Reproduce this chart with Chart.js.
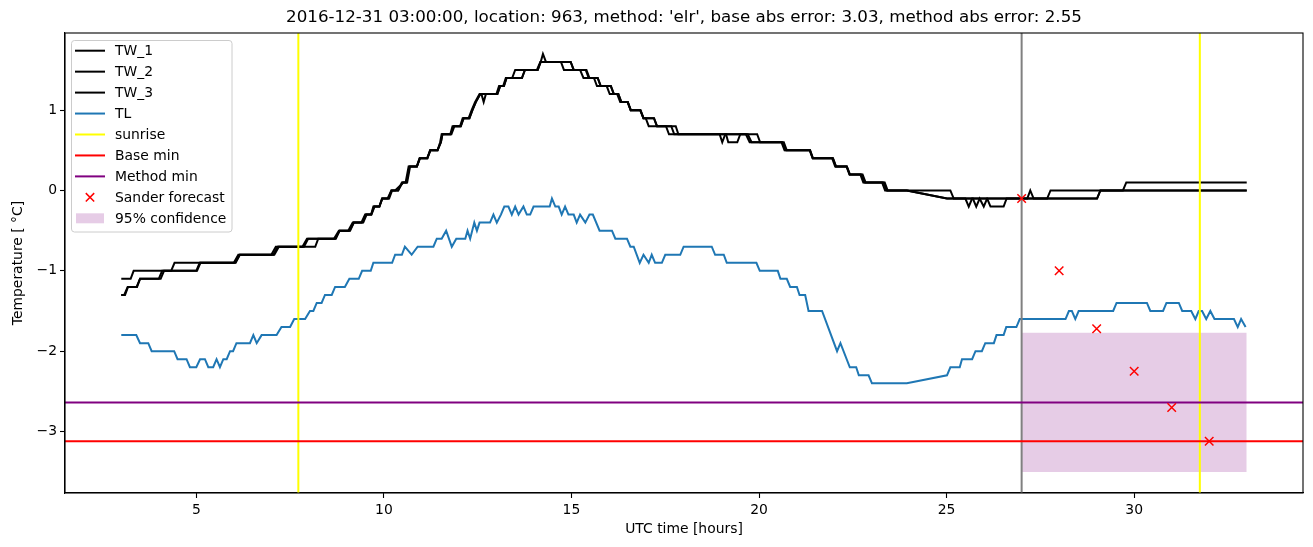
<!DOCTYPE html>
<html>
<head>
<meta charset="utf-8">
<style>
  body { margin: 0; background: #ffffff; }
  #wrap { width: 1313px; height: 547px; }
</style>
<script src="https://cdn.jsdelivr.net/npm/chart.js"></script>
</head>
<body>
<div id="wrap"><canvas id="myChart" width="1313" height="547"></canvas></div>
<script>
  // hours after 2016-12-31 00:00 UTC, temperature in deg C
  const TW_1 = [[3.0,-1.1],[3.25,-1.1],[3.33,-1.0],[4.33,-1.0],[4.42,-0.9],[6.0,-0.9],[6.12,-0.8],[7.0,-0.8],[7.12,-0.7],[7.83,-0.7],[7.95,-0.6],[8.67,-0.6],[8.8,-0.5],[9.05,-0.5],[9.17,-0.4],[9.4,-0.4],[9.5,-0.3],[9.67,-0.3],[9.75,-0.2],[9.88,-0.2],[9.95,-0.1],[10.12,-0.1],[10.2,0.0],[10.38,0.0],[10.48,0.1],[10.58,0.1],[10.66,0.3],[10.88,0.3],[10.95,0.4],[11.16,0.4],[11.23,0.5],[11.43,0.5],[11.5,0.6],[11.54,0.7],[11.77,0.7],[11.83,0.8],[12.03,0.8],[12.1,0.9],[12.26,0.9],[12.34,1.0],[12.43,1.1],[12.55,1.2],[13.0,1.2],[13.07,1.3],[13.18,1.3],[13.25,1.4],[13.42,1.4],[13.5,1.5],[14.08,1.5],[14.17,1.6],[14.72,1.6],[14.8,1.5],[15.23,1.5],[15.32,1.4],[15.6,1.4],[15.68,1.3],[15.94,1.3],[16.02,1.2],[16.22,1.2],[16.3,1.1],[16.5,1.1],[16.58,1.0],[16.83,1.0],[16.92,0.9],[16.98,0.9],[17.06,0.8],[17.52,0.8],[17.6,0.7],[18.95,0.7],[19.02,0.6],[19.1,0.7],[19.65,0.7],[19.75,0.6],[20.6,0.6],[20.68,0.5],[21.35,0.5],[21.43,0.4],[21.95,0.4],[22.03,0.3],[22.33,0.3],[22.41,0.2],[22.7,0.2],[22.78,0.1],[23.28,0.1],[23.36,0.0],[25.1,0.0],[25.19,-0.1],[25.5,-0.1],[25.59,-0.2],[25.68,-0.1],[27.15,-0.1],[27.23,0.0],[27.32,-0.1],[27.68,-0.1],[27.77,0.0],[29.7,0.0],[29.79,0.1],[33.0,0.1]];
  const TW_2 = [[3.0,-1.3],[3.08,-1.3],[3.17,-1.2],[3.41,-1.2],[3.5,-1.1],[4.0,-1.1],[4.09,-1.0],[5.0,-1.0],[5.09,-0.9],[6.03,-0.9],[6.16,-0.8],[7.05,-0.8],[7.17,-0.7],[7.87,-0.7],[7.98,-0.6],[8.7,-0.6],[8.82,-0.5],[9.08,-0.5],[9.2,-0.4],[9.42,-0.4],[9.52,-0.3],[9.66,-0.3],[9.72,-0.2],[9.88,-0.2],[9.96,-0.1],[10.1,-0.1],[10.2,0.0],[10.3,0.0],[10.52,0.1],[10.6,0.1],[10.68,0.3],[10.88,0.3],[10.96,0.4],[11.15,0.4],[11.24,0.5],[11.43,0.5],[11.52,0.6],[11.56,0.7],[11.78,0.7],[11.86,0.8],[12.05,0.8],[12.12,0.9],[12.28,0.9],[12.36,1.0],[12.45,1.1],[12.57,1.2],[12.6,1.2],[12.66,1.1],[12.72,1.2],[13.02,1.2],[13.1,1.3],[13.2,1.3],[13.27,1.4],[13.68,1.4],[13.76,1.5],[14.1,1.5],[14.18,1.6],[14.24,1.7],[14.32,1.6],[14.98,1.6],[15.06,1.5],[15.4,1.5],[15.48,1.4],[15.7,1.4],[15.78,1.3],[16.05,1.3],[16.13,1.2],[16.25,1.2],[16.33,1.1],[16.5,1.1],[16.58,1.0],[16.84,1.0],[16.92,0.9],[17.2,0.9],[17.28,0.8],[17.66,0.8],[17.74,0.7],[19.12,0.7],[19.18,0.6],[19.42,0.6],[19.5,0.7],[19.95,0.7],[20.03,0.6],[20.66,0.6],[20.74,0.5],[21.36,0.5],[21.44,0.4],[21.97,0.4],[22.05,0.3],[22.34,0.3],[22.42,0.2],[22.76,0.2],[22.84,0.1],[23.35,0.1],[23.43,0.0],[23.94,0.0],[25.01,-0.1],[25.7,-0.1],[25.79,-0.2],[25.88,-0.1],[25.99,-0.2],[26.08,-0.1],[29.01,-0.1],[29.1,0.0],[33.0,0.0]];
  const TW_3 = [[3.0,-1.3],[3.1,-1.3],[3.18,-1.2],[3.42,-1.2],[3.5,-1.1],[4.05,-1.1],[4.14,-1.0],[5.02,-1.0],[5.11,-0.9],[6.05,-0.9],[6.16,-0.8],[7.08,-0.8],[7.2,-0.7],[8.17,-0.7],[8.25,-0.6],[8.72,-0.6],[8.82,-0.5],[9.1,-0.5],[9.2,-0.4],[9.45,-0.4],[9.54,-0.3],[9.66,-0.3],[9.74,-0.2],[9.88,-0.2],[9.96,-0.1],[10.14,-0.1],[10.22,0.0],[10.38,0.0],[10.5,0.1],[10.62,0.1],[10.7,0.3],[10.88,0.3],[10.96,0.4],[11.16,0.4],[11.24,0.5],[11.43,0.5],[11.52,0.6],[11.56,0.7],[11.8,0.7],[11.88,0.8],[12.05,0.8],[12.13,0.9],[12.28,0.9],[12.36,1.0],[12.45,1.1],[12.57,1.2],[13.03,1.2],[13.1,1.3],[13.2,1.3],[13.27,1.4],[13.68,1.4],[13.76,1.5],[14.1,1.5],[14.18,1.6],[14.98,1.6],[15.06,1.5],[15.38,1.5],[15.46,1.4],[15.7,1.4],[15.78,1.3],[16.05,1.3],[16.13,1.2],[16.25,1.2],[16.33,1.1],[16.5,1.1],[16.58,1.0],[16.84,1.0],[16.92,0.9],[17.2,0.9],[17.28,0.8],[17.78,0.8],[17.85,0.7],[19.7,0.7],[19.8,0.6],[20.62,0.6],[20.7,0.5],[21.36,0.5],[21.43,0.4],[21.97,0.4],[22.05,0.3],[22.34,0.3],[22.42,0.2],[22.73,0.2],[22.81,0.1],[23.32,0.1],[23.4,0.0],[23.94,0.0],[25.01,-0.1],[26.08,-0.1],[26.17,-0.2],[26.52,-0.2],[26.6,-0.1],[29.01,-0.1],[29.1,0.0],[33.0,0.0]];
  const TL = [[3.0,-1.8],[3.4,-1.8],[3.5,-1.9],[3.72,-1.9],[3.81,-2.0],[4.41,-2.0],[4.5,-2.1],[4.74,-2.1],[4.83,-2.2],[5.0,-2.2],[5.1,-2.1],[5.23,-2.1],[5.32,-2.2],[5.45,-2.2],[5.54,-2.1],[5.63,-2.2],[5.72,-2.1],[5.81,-2.1],[5.9,-2.0],[5.98,-2.0],[6.07,-1.9],[6.43,-1.9],[6.52,-1.8],[6.61,-1.9],[6.74,-1.8],[7.14,-1.8],[7.27,-1.7],[7.5,-1.7],[7.61,-1.6],[7.9,-1.6],[8.03,-1.5],[8.12,-1.5],[8.21,-1.4],[8.34,-1.4],[8.43,-1.3],[8.61,-1.3],[8.7,-1.2],[8.96,-1.2],[9.08,-1.1],[9.33,-1.1],[9.42,-1.0],[9.65,-1.0],[9.72,-0.9],[10.22,-0.9],[10.3,-0.8],[10.48,-0.8],[10.56,-0.7],[10.74,-0.8],[10.9,-0.7],[11.32,-0.7],[11.41,-0.6],[11.54,-0.6],[11.66,-0.5],[11.81,-0.7],[11.93,-0.6],[12.17,-0.6],[12.23,-0.5],[12.3,-0.6],[12.41,-0.4],[12.48,-0.5],[12.55,-0.4],[12.83,-0.4],[12.92,-0.3],[13.01,-0.4],[13.12,-0.3],[13.21,-0.2],[13.32,-0.2],[13.41,-0.3],[13.5,-0.2],[13.59,-0.3],[13.72,-0.2],[13.81,-0.3],[13.9,-0.3],[13.99,-0.2],[14.42,-0.2],[14.48,-0.1],[14.57,-0.2],[14.66,-0.2],[14.74,-0.3],[14.83,-0.2],[14.92,-0.3],[15.06,-0.3],[15.14,-0.4],[15.23,-0.3],[15.37,-0.4],[15.48,-0.3],[15.57,-0.3],[15.75,-0.5],[16.08,-0.5],[16.17,-0.6],[16.48,-0.6],[16.57,-0.7],[16.66,-0.7],[16.82,-0.9],[16.92,-0.8],[17.06,-0.9],[17.14,-0.8],[17.23,-0.9],[17.41,-0.9],[17.5,-0.8],[17.9,-0.8],[17.99,-0.7],[18.74,-0.7],[18.83,-0.8],[19.06,-0.8],[19.14,-0.9],[19.93,-0.9],[20.02,-1.0],[20.5,-1.0],[20.57,-1.1],[20.74,-1.1],[20.83,-1.2],[21.01,-1.2],[21.08,-1.3],[21.23,-1.3],[21.32,-1.5],[21.68,-1.5],[22.08,-2.0],[22.17,-1.9],[22.42,-2.2],[22.59,-2.2],[22.66,-2.3],[22.92,-2.3],[23.01,-2.4],[23.94,-2.4],[25.01,-2.3],[25.1,-2.2],[25.35,-2.2],[25.41,-2.1],[25.68,-2.1],[25.77,-2.0],[25.94,-2.0],[26.03,-1.9],[26.26,-1.9],[26.33,-1.8],[26.52,-1.8],[26.59,-1.7],[26.86,-1.7],[26.95,-1.6],[28.17,-1.6],[28.26,-1.5],[28.34,-1.5],[28.43,-1.6],[28.52,-1.5],[29.44,-1.5],[29.53,-1.4],[30.34,-1.4],[30.43,-1.5],[30.77,-1.5],[30.86,-1.4],[31.19,-1.4],[31.28,-1.5],[31.52,-1.5],[31.63,-1.6],[31.72,-1.5],[31.81,-1.5],[31.92,-1.6],[32.03,-1.5],[32.14,-1.6],[32.66,-1.6],[32.76,-1.7],[32.85,-1.6],[32.97,-1.7]];

  const SUNRISE_HOURS = [7.72, 31.75];
  const FORECAST_START = 27;
  const BASE_MIN = -3.12;
  const METHOD_MIN = -2.64;
  const FORECAST_HOURS = [27, 28, 29, 30, 31, 32];
  const FORECAST_TEMPS = [-0.1, -1.0, -1.72, -2.25, -2.7, -3.12];
  const CONF_HOURS = [27, 33];
  const CONF_LOW = -3.505;
  const CONF_HIGH = -1.77;

  const X_MIN = 1.5, X_MAX = 34.5, Y_MIN = -3.765, Y_MAX = 1.96;
  const TITLE = "2016-12-31 03:00:00, location: 963, method: 'elr', base abs error: 3.03, method abs error: 2.55";
  const FONT = '"DejaVu Sans", sans-serif';

  const pts = arr => arr.map(p => ({x: p[0], y: p[1]}));
  const vline = hours => {
    const out = [];
    hours.forEach((h, i) => {
      if (i > 0) out.push({x: NaN, y: null});
      out.push({x: h, y: Y_MIN - 1}, {x: h, y: Y_MAX + 1});
    });
    return out;
  };
  const hline = v => [{x: X_MIN - 1, y: v}, {x: X_MAX + 1, y: v}];

  const lineDs = (label, data, color, order, extra) => Object.assign({
    label: label, data: data, showLine: true, borderColor: color, backgroundColor: color,
    borderWidth: 2, pointRadius: 0, pointHoverRadius: 0, order: order, legend: 'line'
  }, extra || {});

  const datasets = [
    lineDs('TW_1', pts(TW_1), '#000000', 5),
    lineDs('TW_2', pts(TW_2), '#000000', 5),
    lineDs('TW_3', pts(TW_3), '#000000', 5),
    lineDs('TL', pts(TL), '#1f77b4', 4),
    lineDs('sunrise', vline(SUNRISE_HOURS), '#ffff00', 2),
    lineDs('Base min', hline(BASE_MIN), '#ff0000', 1),
    lineDs('Method min', hline(METHOD_MIN), '#800080', 1),
    {
      label: 'Sander forecast', data: FORECAST_HOURS.map((h, i) => ({x: h, y: FORECAST_TEMPS[i]})),
      showLine: false, pointStyle: 'crossRot', pointRadius: 6, pointHoverRadius: 6,
      borderColor: '#ff0000', backgroundColor: '#ff0000', pointBorderWidth: 1.5, order: 0, legend: 'cross'
    },
    lineDs('now', vline([FORECAST_START]), '#808080', 3, {legend: null}),
    {
      label: 'conf low', data: CONF_HOURS.map(h => ({x: h, y: CONF_LOW})), showLine: true,
      borderWidth: 0, pointRadius: 0, borderColor: 'rgba(0,0,0,0)', order: 9, legend: null
    },
    {
      label: '95% confidence', data: CONF_HOURS.map(h => ({x: h, y: CONF_HIGH})), showLine: true,
      borderWidth: 0, pointRadius: 0, borderColor: 'rgba(0,0,0,0)',
      backgroundColor: 'rgba(128,0,128,0.2)', fill: '-1', order: 9, legend: 'patch'
    }
  ];

  function drawLegend(chart) {
    const ctx = chart.ctx;
    const items = chart.data.datasets.filter(d => d.legend);
    const x0 = 71.5, y0 = 40.5, w = 160.5, h = 191.5;
    ctx.save();
    ctx.beginPath();
    ctx.roundRect(x0, y0, w, h, 3);
    ctx.fillStyle = 'rgba(255,255,255,0.8)';
    ctx.fill();
    ctx.strokeStyle = '#cccccc';
    ctx.lineWidth = 1;
    ctx.stroke();
    ctx.font = '13.9px ' + FONT;
    ctx.textBaseline = 'middle';
    ctx.textAlign = 'left';
    items.forEach((d, i) => {
      const cy = 50.7 + i * 20.95;
      if (d.legend === 'line') {
        ctx.strokeStyle = d.borderColor;
        ctx.lineWidth = 2;
        ctx.beginPath(); ctx.moveTo(75, cy); ctx.lineTo(105, cy); ctx.stroke();
      } else if (d.legend === 'cross') {
        ctx.strokeStyle = d.borderColor;
        ctx.lineWidth = 1.5;
        ctx.beginPath();
        ctx.moveTo(85.8, cy - 4.2); ctx.lineTo(94.2, cy + 4.2);
        ctx.moveTo(85.8, cy + 4.2); ctx.lineTo(94.2, cy - 4.2);
        ctx.stroke();
      } else if (d.legend === 'patch') {
        ctx.fillStyle = d.backgroundColor;
        ctx.fillRect(76, cy - 5, 28, 10);
      }
      ctx.fillStyle = '#000000';
      ctx.fillText(d.label, 115, cy + 1);
    });
    ctx.restore();
  }

  const decorations = {
    id: 'decorations',
    afterDraw(chart) {
      const ctx = chart.ctx, a = chart.chartArea;
      ctx.save();
      ctx.strokeStyle = '#000000';
      ctx.lineWidth = 1.1;
      ctx.strokeRect(a.left, a.top, a.right - a.left, a.bottom - a.top);
      ctx.fillStyle = '#000000';
      ctx.textAlign = 'center';
      ctx.textBaseline = 'middle';
      ctx.font = '16.7px ' + FONT;
      ctx.fillText(TITLE, (a.left + a.right) / 2, 18);
      ctx.font = '13.9px ' + FONT;
      ctx.fillText('UTC time [hours]', (a.left + a.right) / 2, 529);
      ctx.translate(18, (a.top + a.bottom) / 2);
      ctx.rotate(-Math.PI / 2);
      ctx.fillText('Temperature [ \u00b0C]', 0, 0);
      ctx.restore();
      drawLegend(chart);
    }
  };

  const axisCommon = {
    type: 'linear',
    grid: { display: true, drawOnChartArea: false, drawTicks: true, tickLength: 5, color: '#000000', tickWidth: 1.1 },
    border: { display: true, color: '#000000', width: 1.1 },
  };

  new Chart(document.getElementById('myChart'), {
    type: 'scatter',
    data: { datasets: datasets },
    options: {
      responsive: false,
      animation: false,
      devicePixelRatio: 1,
      layout: { padding: { left: 0, top: 33, right: 10, bottom: 0 } },
      plugins: { legend: { display: false }, tooltip: { enabled: false }, title: { display: false } },
      scales: {
        x: Object.assign({}, axisCommon, {
          min: X_MIN, max: X_MAX,
          ticks: { stepSize: 5, includeBounds: false, color: '#000000', font: { family: FONT, size: 13.9 }, padding: 4, maxRotation: 0 },
          afterFit(s) { s.height = 54; }
        }),
        y: Object.assign({}, axisCommon, {
          min: Y_MIN, max: Y_MAX,
          ticks: { stepSize: 1, includeBounds: false, color: '#000000', font: { family: FONT, size: 13.9 }, padding: 3,
                   callback: v => String(v).replace('-', '\u2212') },
          afterFit(s) { s.width = 65; }
        })
      }
    },
    plugins: [decorations]
  });
</script>
</body>
</html>
